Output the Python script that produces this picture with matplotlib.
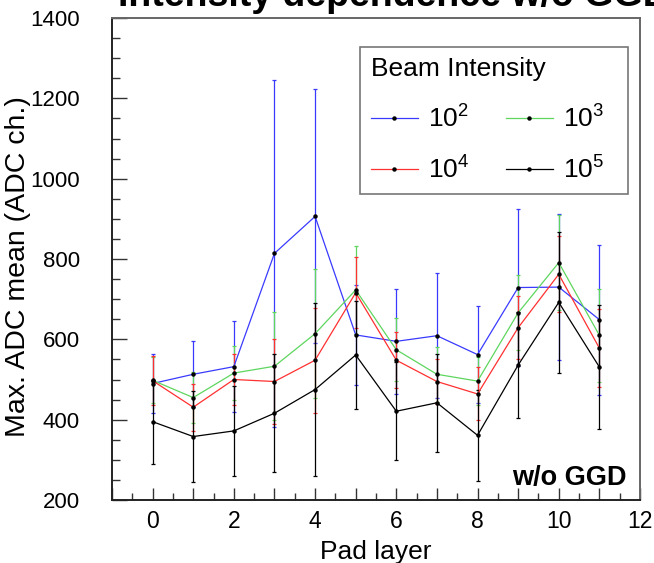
import numpy as np
import matplotlib
matplotlib.use("Agg")
import matplotlib.pyplot as plt
from matplotlib.ticker import MultipleLocator, FuncFormatter
from matplotlib.lines import Line2D

plt.rcParams['font.family'] = ['Liberation Sans', 'DejaVu Sans']
plt.rcParams['mathtext.fontset'] = 'custom'
plt.rcParams['mathtext.rm'] = 'Liberation Sans'
plt.rcParams['mathtext.it'] = 'Liberation Sans:italic'

# pad layer index
layers = np.arange(12)

# mean of max ADC per beam intensity, with error bars
mean_1e2 = [490, 513, 532, 814, 906, 611, 595, 609, 562, 729, 730, 649]
err_1e2 = [74, 82, 113, 432, 316, 124, 130, 155, 120, 195, 181, 187]
mean_1e3 = [498, 455, 516, 533, 614, 723, 574, 513, 496, 666, 791, 610]
err_1e3 = [57, 63, 67, 135, 160, 110, 78, 68, 60, 93, 118, 116]
mean_1e4 = [497, 431, 500, 495, 548, 716, 548, 495, 464, 629, 762, 578]
err_1e4 = [61, 59, 63, 105, 131, 89, 70, 56, 66, 78, 95, 97]
mean_1e5 = [395, 358, 372, 416, 475, 561, 421, 442, 361, 536, 692, 531]
err_1e5 = [105, 113, 112, 147, 216, 134, 122, 122, 114, 133, 175, 155]

labels = [r'$10^{2}$', r'$10^{3}$', r'$10^{4}$', r'$10^{5}$']
colors = ['#3a3aff', '#5ed65e', '#ff3030', '#000000']

fig = plt.figure(figsize=(6.54, 5.63), dpi=100)
ax = fig.add_axes([112/654, 1 - 500/563, 528/654, 482/563])

series = [(mean_1e2, err_1e2), (mean_1e3, err_1e3), (mean_1e4, err_1e4), (mean_1e5, err_1e5)]
handles = []
for (m, e), c, lab in zip(series, colors, labels):
    ax.errorbar(layers, m, yerr=e, color=c, lw=0.9, elinewidth=0.9,
                capsize=1.5, capthick=0.9, marker='o', ms=2.2,
                mfc='black', mec='black')
    handles.append(Line2D([], [], color=c, lw=0.9, marker='o', ms=2.2,
                          mfc='black', mec='black'))

ax.set_xlim(-1, 12)
ax.set_ylim(200, 1400)

ax.xaxis.set_major_locator(MultipleLocator(1))
ax.xaxis.set_minor_locator(MultipleLocator(0.5))
ax.xaxis.set_major_formatter(FuncFormatter(lambda v, p: '%d' % v if int(round(v)) % 2 == 0 else ''))
ax.yaxis.set_major_locator(MultipleLocator(200))
ax.yaxis.set_minor_locator(MultipleLocator(50))

ax.tick_params(axis='both', which='both', direction='in', top=False, right=False,
               width=1.0, color='#333333')
ax.tick_params(axis='x', which='major', length=9, pad=7, labelsize=16.5)
ax.tick_params(axis='x', which='minor', length=5)
ax.tick_params(axis='y', which='major', length=11, pad=23, labelsize=16)
ax.tick_params(axis='y', which='minor', length=6)

for s in ['top', 'right']:
    ax.spines[s].set_color('#666666')
    ax.spines[s].set_linewidth(1.4)
for s in ['left', 'bottom']:
    ax.spines[s].set_color('#222222')
    ax.spines[s].set_linewidth(1.4)

ax.set_xlabel('Pad layer', fontsize=19, labelpad=5)
ax.set_ylabel('Max. ADC mean (ADC ch.)', fontsize=20.5)
ax.yaxis.set_label_coords(-0.154, 0.484)

# row-wise order: 10^2 10^3 / 10^4 10^5
order = [0, 2, 1, 3]
leg = ax.legend([handles[i] for i in order], [labels[i] for i in order],
                loc='upper left', bbox_to_anchor=(0.47, 0.638, 0.507, 0.302),
                mode='expand', ncol=2, title='Beam Intensity', fontsize=19,
                title_fontsize=19, alignment='left', fancybox=False,
                borderaxespad=0, handlelength=1.8, handletextpad=0.38,
                labelspacing=0.9, borderpad=0.4)
leg.get_frame().set_edgecolor('#555555')
leg.get_frame().set_linewidth(1.2)
leg._legend_box.sep = 17
# keep the frame full width but pack the two columns with a fixed gap
leg._legend_handle_box.mode = 'fixed'
leg._legend_handle_box.sep = 26

ax.text(0.975, 0.031, 'w/o GGD', transform=ax.transAxes, ha='right',
        va='baseline', fontsize=19.5, fontweight='bold')

# slide title, cut off at the top of the screenshot
fig.text(118/654, 1 - 6/563, 'Intensity dependence w/o GGD', fontsize=27,
         fontweight='bold', va='baseline', ha='left')

fig.savefig('out.png', dpi=100)
